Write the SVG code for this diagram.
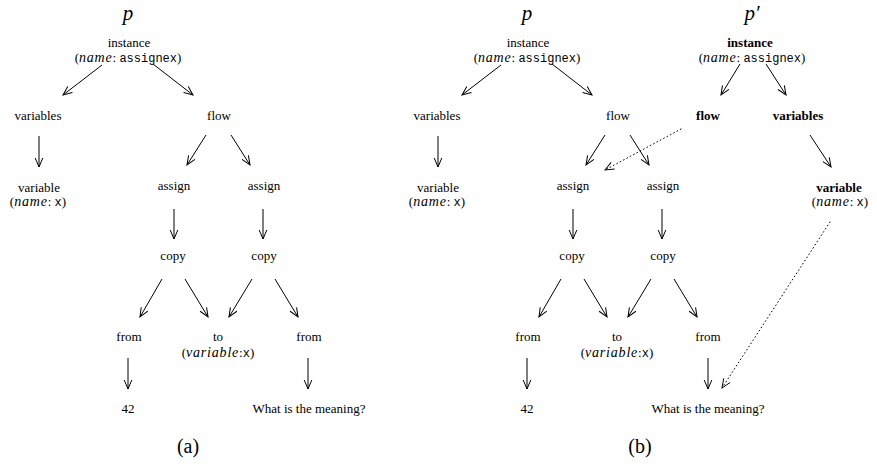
<svg xmlns="http://www.w3.org/2000/svg" width="877" height="464" viewBox="0 0 877 464">
<defs>
<marker id="ah" markerUnits="userSpaceOnUse" markerWidth="12" markerHeight="12" refX="0" refY="0" viewBox="-10 -6 12 12" orient="auto" overflow="visible">
<path d="M-9,-3.8 L0,0 L-9,3.8" fill="none" stroke="#000" stroke-width="1"/>
</marker>
<marker id="ahd" markerUnits="userSpaceOnUse" markerWidth="12" markerHeight="12" refX="0" refY="0" viewBox="-10 -6 12 12" orient="auto" overflow="visible">
<path d="M-9,-3.8 L0,0 L-9,3.8" fill="none" stroke="#000" stroke-width="0.9"/>
</marker>
</defs>
<style>
text{font-family:"Liberation Serif","Times New Roman",serif;font-size:13px;fill:#000;text-anchor:middle}
.b{font-weight:bold}
.i{font-style:italic;font-size:14px;letter-spacing:0.8px}
.m{font-family:"Liberation Mono","Courier New",monospace;font-size:12px}
.title{font-size:21px;font-style:italic}
.cap{font-size:20px}
.e{stroke:#000;stroke-width:1;fill:none;marker-end:url(#ah)}
.d{stroke:#000;stroke-width:1;fill:none;stroke-dasharray:0.8 3;stroke-linecap:round;marker-end:url(#ahd)}
</style>
<rect width="877" height="464" fill="#fff"/>

<g id="panel-a">
<text class="title" x="128" y="20">p</text>
<g id="a-instance"><text x="129" y="47">instance</text><text x="128" y="62">(<tspan class="i">name</tspan>: <tspan class="m">assignex</tspan>)</text></g>
<g id="a-variables"><text x="38" y="120">variables</text></g>
<g id="a-flow"><text x="219" y="120">flow</text></g>
<g id="a-variable"><text x="39" y="192">variable</text><text x="38" y="206">(<tspan class="i">name</tspan>: <tspan class="m">x</tspan>)</text></g>
<g id="a-assign1"><text x="174" y="190">assign</text></g>
<g id="a-assign2"><text x="264" y="190">assign</text></g>
<g id="a-copy1"><text x="173" y="260">copy</text></g>
<g id="a-copy2"><text x="264" y="260">copy</text></g>
<g id="a-from1"><text x="129" y="341">from</text></g>
<g id="a-to"><text x="218" y="341">to</text><text x="218" y="357">(<tspan class="i">variable</tspan>:<tspan class="m">x</tspan>)</text></g>
<g id="a-from2"><text x="309" y="341">from</text></g>
<g id="a-42"><text x="128" y="413">42</text></g>
<g id="a-what"><text x="309" y="413">What is the meaning?</text></g>
<text class="cap" x="188" y="453">(a)</text>
</g>

<g id="panel-b">
<text class="title" x="527" y="20">p</text>
<g id="b-instance"><text x="528" y="47">instance</text><text x="527" y="62">(<tspan class="i">name</tspan>: <tspan class="m">assignex</tspan>)</text></g>
<g id="b-variables"><text x="437" y="120">variables</text></g>
<g id="b-flow"><text x="618" y="120">flow</text></g>
<g id="b-variable"><text x="438" y="192">variable</text><text x="437" y="206">(<tspan class="i">name</tspan>: <tspan class="m">x</tspan>)</text></g>
<g id="b-assign1"><text x="573" y="190">assign</text></g>
<g id="b-assign2"><text x="663" y="190">assign</text></g>
<g id="b-copy1"><text x="572" y="260">copy</text></g>
<g id="b-copy2"><text x="663" y="260">copy</text></g>
<g id="b-from1"><text x="528" y="341">from</text></g>
<g id="b-to"><text x="617" y="341">to</text><text x="617" y="357">(<tspan class="i">variable</tspan>:<tspan class="m">x</tspan>)</text></g>
<g id="b-from2"><text x="708" y="341">from</text></g>
<g id="b-42"><text x="527" y="413">42</text></g>
<g id="b-what"><text x="708" y="413">What is the meaning?</text></g>
<text class="cap" x="640" y="453">(b)</text>
</g>

<g id="panel-b-prime">
<text class="title" x="752" y="20">p′</text>
<g id="p-instance"><text class="b" x="750" y="47">instance</text><text x="752" y="62">(<tspan class="i">name</tspan>: <tspan class="m">assignex</tspan>)</text></g>
<g id="p-flow"><text class="b" x="708" y="120">flow</text></g>
<g id="p-variables"><text class="b" x="798" y="120">variables</text></g>
<g id="p-variable"><text class="b" x="839" y="192">variable</text><text x="840" y="206">(<tspan class="i">name</tspan>: <tspan class="m">x</tspan>)</text></g>
</g>

<g id="connectors">
<line class="e" x1="102" y1="65" x2="63" y2="95"/>
<line class="e" x1="153" y1="64" x2="193" y2="95"/>
<line class="e" x1="39" y1="136" x2="39" y2="167"/>
<line class="e" x1="206" y1="135" x2="187" y2="165"/>
<line class="e" x1="231" y1="135" x2="250" y2="165"/>
<line class="e" x1="174" y1="209" x2="174" y2="239"/>
<line class="e" x1="263" y1="209" x2="263" y2="239"/>
<line class="e" x1="162" y1="279" x2="140" y2="317"/>
<line class="e" x1="185" y1="279" x2="208" y2="317"/>
<line class="e" x1="252" y1="279" x2="229" y2="317"/>
<line class="e" x1="275" y1="279" x2="298" y2="317"/>
<line class="e" x1="128" y1="358" x2="128" y2="389"/>
<line class="e" x1="308" y1="358" x2="308" y2="389"/>

<line class="e" x1="501" y1="65" x2="462" y2="95"/>
<line class="e" x1="552" y1="64" x2="592" y2="95"/>
<line class="e" x1="438" y1="136" x2="438" y2="167"/>
<line class="e" x1="605" y1="135" x2="586" y2="165"/>
<line class="e" x1="630" y1="135" x2="649" y2="165"/>
<line class="e" x1="573" y1="209" x2="573" y2="239"/>
<line class="e" x1="662" y1="209" x2="662" y2="239"/>
<line class="e" x1="561" y1="279" x2="539" y2="317"/>
<line class="e" x1="584" y1="279" x2="607" y2="317"/>
<line class="e" x1="651" y1="279" x2="628" y2="317"/>
<line class="e" x1="674" y1="279" x2="697" y2="317"/>
<line class="e" x1="527" y1="358" x2="527" y2="389"/>
<line class="e" x1="708" y1="358" x2="708" y2="389"/>

<line class="e" x1="740" y1="64" x2="721" y2="95"/>
<line class="e" x1="766" y1="64" x2="786" y2="95"/>
<line class="e" x1="810" y1="135" x2="831" y2="167"/>

<line class="d" x1="681" y1="129" x2="605" y2="170"/>
<line class="d" x1="830" y1="222" x2="722" y2="388"/>
</g>
</svg>
